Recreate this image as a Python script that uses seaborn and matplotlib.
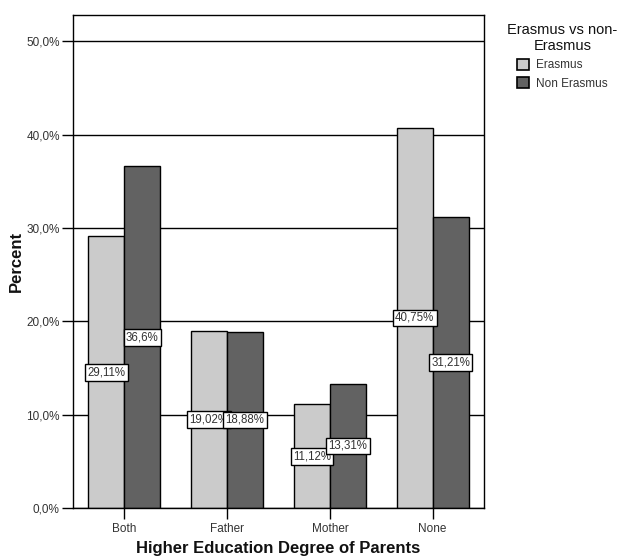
import matplotlib
matplotlib.use("Agg")
import matplotlib.pyplot as plt
import seaborn as sns
import pandas as pd
from matplotlib.patches import Patch

categories = ["Both", "Father", "Mother", "None"]
groups = ["Erasmus", "Non Erasmus"]
erasmus = [29.11, 19.02, 11.12, 40.75]
non_erasmus = [36.6, 18.88, 13.31, 31.21]
value_labels_erasmus = ["29,11%", "19,02%", "11,12%", "40,75%"]
value_labels_non = ["36,6%", "18,88%", "13,31%", "31,21%"]
y_ticks = [0, 10, 20, 30, 40, 50]
y_tick_labels = ["0,0%", "10,0%", "20,0%", "30,0%", "40,0%", "50,0%"]

df = pd.DataFrame({
    "Parents": categories * 2,
    "Group": [groups[0]] * 4 + [groups[1]] * 4,
    "Percent": erasmus + non_erasmus,
})

sns.set_style("white")
plt.rcParams["font.family"] = ["Liberation Sans", "DejaVu Sans"]

colors = {"Erasmus": "#cbcbcb", "Non Erasmus": "#626262"}
text_color = "#333333"

fig = plt.figure(figsize=(6.23, 5.59), dpi=100)
ax = fig.add_axes([0.117, 0.091, 0.660, 0.882])

sns.barplot(data=df, x="Parents", y="Percent", hue="Group", order=categories,
            hue_order=groups, palette=colors, width=0.7, edgecolor="black",
            linewidth=1.0, errorbar=None, ax=ax, legend=False, saturation=1)

ax.set_axisbelow(True)
ax.yaxis.grid(True, color="black", linewidth=1.0)
ax.set_ylim(0, 52.8)
ax.set_xlim(-0.5, 3.5)
ax.set_yticks(y_ticks)
ax.set_yticklabels(y_tick_labels, fontsize=8.5, color=text_color)
ax.tick_params(axis="y", length=8, width=1, color="black", left=True, pad=1.5)
ax.tick_params(axis="x", length=8, width=1, color="black", bottom=True,
               labelsize=8.5, labelcolor=text_color, pad=3)
for s in ax.spines.values():
    s.set_color("black")
    s.set_linewidth(1.0)

ax.set_ylabel("Percent", fontsize=12, fontweight="bold", labelpad=2, color="#111111")
ax.set_xlabel("Higher Education Degree of Parents", fontsize=12, fontweight="bold",
              labelpad=4, color="#111111")

# value labels at mid-height of each bar
for container, labels in zip(ax.containers, [value_labels_erasmus, value_labels_non]):
    for bar, lab in zip(container, labels):
        cx = bar.get_x() + bar.get_width() / 2
        cy = bar.get_height() / 2
        ax.text(cx, cy, lab, ha="center", va="center", fontsize=8.3, color=text_color,
                bbox=dict(boxstyle="square,pad=0.2", fc="white", ec="black", lw=1.0),
                zorder=5)

handles = [Patch(facecolor=colors[g], edgecolor="black", linewidth=1.2, label=g) for g in groups]
leg = fig.legend(handles=handles, title="Erasmus vs non-\nErasmus", loc="upper left",
                 bbox_to_anchor=(0.797, 0.978), frameon=False, fontsize=8.5,
                 title_fontsize=10.5, handlelength=1.0, handleheight=1.0,
                 handletextpad=0.6, labelspacing=0.5, alignment="center")
leg.get_title().set_multialignment("center")
leg.get_title().set_color("#111111")
for t in leg.get_texts():
    t.set_color(text_color)

fig.savefig("out.png", dpi=100)
